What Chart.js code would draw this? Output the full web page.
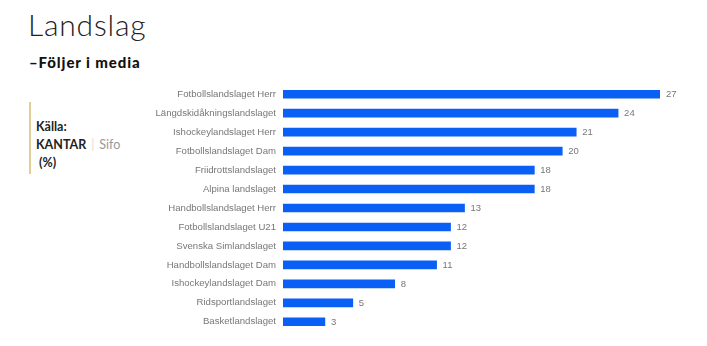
<!DOCTYPE html>
<html>
<head>
<meta charset="utf-8">
<script src="https://cdn.jsdelivr.net/npm/chart.js@4/dist/chart.umd.min.js"></script>
<style>
  body { margin: 0; width: 707px; height: 346px; background: #fff; position: relative; overflow: hidden; font-family: "Noto Sans", sans-serif; }
  h1 { position: absolute; left: 28px; top: 6px; margin: 0; font-family: "Lato", sans-serif; font-weight: 300; font-size: 30px; color: #222; letter-spacing: 0.8px; }
  h2 { position: absolute; left: 29px; top: 53px; margin: 0; font-family: "Lato", sans-serif; font-weight: 900; font-size: 15px; color: #111; letter-spacing: 0.9px; }
  .kalla { position: absolute; left: 29px; top: 102px; height: 72px; border-left: 2px solid #e2cf98; padding-left: 5px; font-family: "Lato", sans-serif; font-size: 12.5px; color: #222; line-height: 18px; font-weight: 700; }
  .kalla .l1 { margin-top: 16px; }
  .kalla .sifo { color: #999; font-weight: 400; }
  .kalla .sep { color: #ddd; font-weight: 400; margin: 0 5px; }
  #wrap { position: absolute; left: 0; top: 72px; width: 707px; height: 272px; }
</style>
</head>
<body>
<h1>Landslag</h1>
<h2>–Följer i media</h2>
<div class="kalla">
  <div class="l1">Källa:</div>
  <div>KANTAR<span class="sep">|</span><span class="sifo">Sifo</span></div>
  <div>&nbsp;(%)</div>
</div>
<div id="wrap"><canvas id="chart"></canvas></div>
<script>
// Kategorier och värden (%)
const lag = [
  'Fotbollslandslaget Herr',
  'Längdskidåkningslandslaget',
  'Ishockeylandslaget Herr',
  'Fotbollslandslaget Dam',
  'Friidrottslandslaget',
  'Alpina landslaget',
  'Handbollslandslaget Herr',
  'Fotbollslandslaget U21',
  'Svenska Simlandslaget',
  'Handbollslandslaget Dam',
  'Ishockeylandslaget Dam',
  'Ridsportlandslaget',
  'Basketlandslaget'
];
const andel = [27, 24, 21, 20, 18, 18, 13, 12, 12, 11, 8, 5, 3];

// Siffror efter staplarna
const valueLabels = {
  id: 'valueLabels',
  afterDatasetsDraw(chart) {
    const ctx = chart.ctx;
    const meta = chart.getDatasetMeta(0);
    ctx.save();
    ctx.font = '9.5px "Liberation Sans", Arial, sans-serif';
    ctx.fillStyle = '#777';
    ctx.textBaseline = 'middle';
    meta.data.forEach((bar, i) => {
      ctx.fillText(andel[i], bar.x + 6, bar.y + 0.5);
    });
    ctx.restore();
  }
};

new Chart(document.getElementById('chart'), {
  type: 'bar',
  data: {
    labels: lag,
    datasets: [{
      data: andel,
      backgroundColor: '#0a5ff5',
      barThickness: 8
    }]
  },
  options: {
    indexAxis: 'y',
    responsive: true,
    maintainAspectRatio: false,
    animation: false,
    layout: { padding: { right: 47, top: 0, bottom: 0, left: 0 } },
    plugins: { legend: { display: false }, tooltip: { enabled: false } },
    scales: {
      x: { display: false, min: 0, max: 27 },
      y: {
        grid: { display: false, drawTicks: false },
        border: { display: false },
        ticks: {
          color: '#777',
          padding: 7,
          font: { family: '"Liberation Sans", Arial, sans-serif', size: 9.6 }
        },
        afterFit(scale) { scale.width = 283; }
      }
    }
  },
  plugins: [valueLabels]
});
</script>
</body>
</html>
